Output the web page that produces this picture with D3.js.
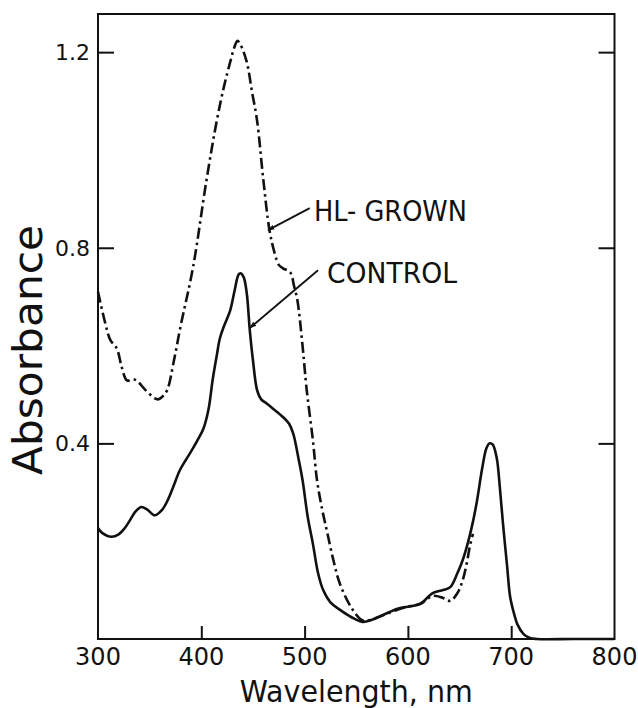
<!DOCTYPE html>
<html>
<head>
<meta charset="utf-8">
<script src="https://cdn.jsdelivr.net/npm/d3@7"></script>
<style>
  html, body { margin: 0; padding: 0; background: #fff; }
  svg { display: block; }
  text { font-family: "DejaVu Sans", sans-serif; fill: #111; }
</style>
</head>
<body>
<div id="chart"></div>
<script>
// wavelength (nm) / absorbance
const hlWave = [300,307,312,318,323,328,336,346,355,358,362,367,373,380,392,405,415,422,428,432,435,438,444,449,454,460,466,471,475,479,486,490,493,498,502,508,512,517,522,528,534,545,555,560,575,590,600,612,624,634,641,648,653,657,660,663];
const hlAbs  = [0.71,0.646,0.611,0.595,0.556,0.529,0.53,0.509,0.492,0.49,0.495,0.509,0.564,0.64,0.76,0.938,1.06,1.13,1.18,1.21,1.223,1.215,1.18,1.12,1.06,0.94,0.836,0.789,0.765,0.758,0.75,0.72,0.693,0.6,0.51,0.407,0.325,0.265,0.217,0.16,0.114,0.065,0.039,0.037,0.048,0.06,0.066,0.072,0.088,0.084,0.078,0.094,0.12,0.155,0.19,0.215];

const ctlWave = [300,304,313,320,326,331,336,342,348,355,362,368,373,379,385,390,396,402,407,411,415,418,422,428,432,436,438,441,444,447,450,454,458,463,470,479,485,489,494,498,503,508,513,518,525,534,545,556,566,576,590,600,612,624,634,641,648,653,658,663,667,672,676,679,682,686,689,692,696,699,703,706,712,718,725,760,800];
const ctlAbs  = [0.227,0.217,0.209,0.214,0.227,0.243,0.26,0.27,0.264,0.253,0.264,0.286,0.312,0.344,0.366,0.383,0.405,0.43,0.47,0.53,0.58,0.615,0.64,0.672,0.71,0.745,0.748,0.74,0.707,0.63,0.57,0.509,0.49,0.482,0.47,0.454,0.44,0.42,0.37,0.325,0.25,0.195,0.135,0.1,0.075,0.06,0.045,0.035,0.04,0.049,0.062,0.066,0.072,0.094,0.1,0.106,0.135,0.161,0.196,0.24,0.284,0.35,0.39,0.40,0.398,0.37,0.31,0.237,0.15,0.086,0.05,0.03,0.01,0.002,0,0,0];

const xTicks = [400, 500, 600, 700];
const xLabels = [300, 400, 500, 600, 700, 800];
const yTicks = [0.4, 0.8, 1.2];

// label anchors in data units: [wavelength, absorbance]
const notes = [
  { text: "HL- GROWN", at: [509, 0.854], width: 153, from: [505, 0.881], to: [464.6, 0.836] },
  { text: "CONTROL",   at: [521.7, 0.728], width: 130, from: [513, 0.754], to: [447, 0.636] }
];

const W = 638, H = 708;
const m = { top: 14, right: 23.5, bottom: 69, left: 98 };

const x = d3.scaleLinear().domain([300, 800]).range([m.left, W - m.right]);
const y = d3.scaleLinear().domain([0, 1.278]).range([H - m.bottom, m.top]);

const svg = d3.select("#chart").append("svg")
  .attr("width", W).attr("height", H);

svg.append("defs").append("marker")
  .attr("id", "head")
  .attr("viewBox", "0 0 10 10")
  .attr("refX", 9).attr("refY", 5)
  .attr("markerWidth", 4).attr("markerHeight", 4)
  .attr("markerUnits", "strokeWidth")
  .attr("orient", "auto")
  .append("path").attr("d", "M0,1.5L10,5L0,8.5z").attr("fill", "#111");

// frame
svg.append("rect")
  .attr("x", x(300)).attr("y", y(1.278))
  .attr("width", x(800) - x(300)).attr("height", y(0) - y(1.278))
  .attr("fill", "none").attr("stroke", "#111").attr("stroke-width", 2);

// inward ticks
svg.append("g").attr("transform", `translate(0,${y(0)})`)
  .call(d3.axisBottom(x).tickValues(xTicks).tickSize(-13).tickFormat(""))
  .call(g => g.select(".domain").remove())
  .call(g => g.selectAll("line").attr("stroke", "#111").attr("stroke-width", 2));

svg.append("g").attr("transform", `translate(${x(300)},0)`)
  .call(d3.axisLeft(y).tickValues(yTicks).tickSize(-16).tickFormat(""))
  .call(g => g.select(".domain").remove())
  .call(g => g.selectAll("line").attr("stroke", "#111").attr("stroke-width", 2));

svg.append("g").attr("transform", `translate(${x(800)},0)`)
  .call(d3.axisRight(y).tickValues(yTicks).tickSize(-16).tickFormat(""))
  .call(g => g.select(".domain").remove())
  .call(g => g.selectAll("line").attr("stroke", "#111").attr("stroke-width", 2));

// tick labels
svg.append("g").selectAll("text").data(xLabels).join("text")
  .attr("x", d => x(d)).attr("y", y(0) + 26)
  .attr("text-anchor", "middle").attr("font-size", 24)
  .text(d => d);

svg.append("g").selectAll("text").data(yTicks).join("text")
  .attr("x", x(300) - 8).attr("y", d => y(d)).attr("dy", "0.36em")
  .attr("text-anchor", "end").attr("font-size", 22)
  .text(d => d.toFixed(1));

// axis titles
svg.append("text")
  .attr("x", (x(300) + x(800)) / 2).attr("y", 702)
  .attr("text-anchor", "middle").attr("font-size", 31)
  .attr("textLength", 233).attr("lengthAdjust", "spacingAndGlyphs")
  .text("Wavelength, nm");

svg.append("text")
  .attr("transform", "translate(42,350) rotate(-90)")
  .attr("text-anchor", "middle").attr("font-size", 40)
  .attr("textLength", 250).attr("lengthAdjust", "spacingAndGlyphs")
  .text("Absorbance");

// curves
const line = d3.line()
  .x(d => x(d[0])).y(d => y(d[1]))
  .curve(d3.curveCatmullRom.alpha(0.5));

svg.append("path")
  .datum(d3.zip(ctlWave, ctlAbs))
  .attr("d", line)
  .attr("fill", "none").attr("stroke", "#111").attr("stroke-width", 2.6)
  .attr("stroke-linejoin", "round");

svg.append("path")
  .datum(d3.zip(hlWave, hlAbs))
  .attr("d", line)
  .attr("fill", "none").attr("stroke", "#111").attr("stroke-width", 2.6)
  .attr("stroke-dasharray", "11,4,2.5,4");

// labels with leader arrows
const ann = svg.append("g");
ann.selectAll("line").data(notes).join("line")
  .attr("x1", d => x(d.from[0])).attr("y1", d => y(d.from[1]))
  .attr("x2", d => x(d.to[0])).attr("y2", d => y(d.to[1]))
  .attr("stroke", "#111").attr("stroke-width", 1.8)
  .attr("marker-end", "url(#head)");

ann.selectAll("text").data(notes).join("text")
  .attr("x", d => x(d.at[0])).attr("y", d => y(d.at[1]))
  .attr("font-size", 28)
  .attr("textLength", d => d.width).attr("lengthAdjust", "spacingAndGlyphs")
  .text(d => d.text);
</script>
</body>
</html>
